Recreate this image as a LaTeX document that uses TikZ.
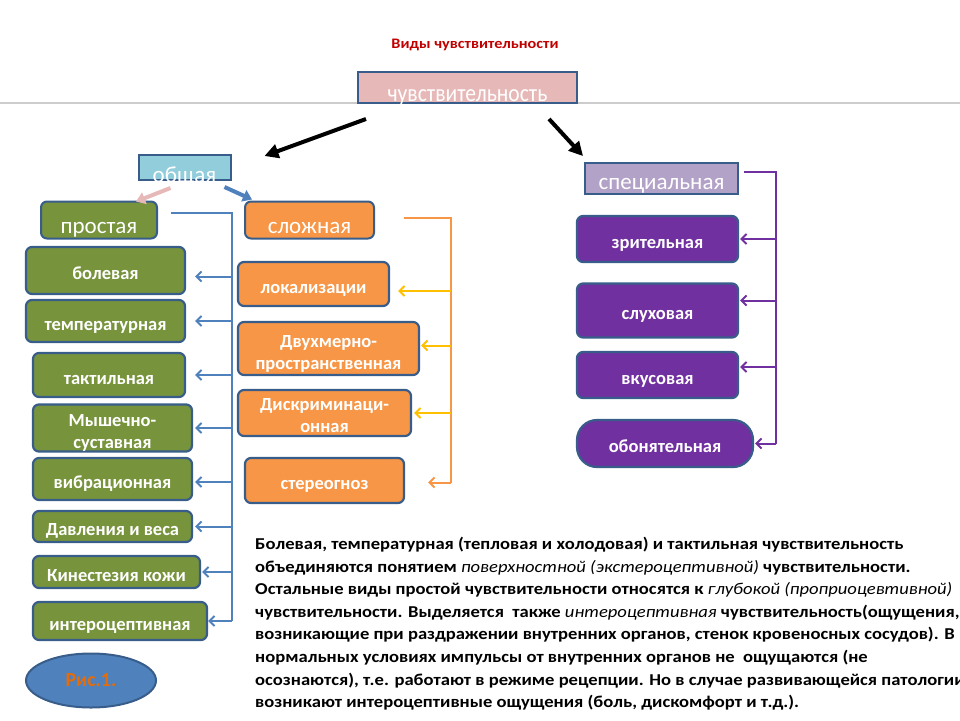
\documentclass[tikz,border=0pt]{standalone}
\usepackage{fontspec}
\setmainfont{Carlito}
\newfontfamily\widefont{Carlito}[FakeStretch=1.12]
\newfontfamily\narrowfont{Carlito}[FakeStretch=0.88]
\usetikzlibrary{arrows.meta,shapes.geometric}
\definecolor{frameblue}{HTML}{385D8A}
\definecolor{rootpink}{HTML}{E6B9B8}
\definecolor{commoncyan}{HTML}{92CDDC}
\definecolor{speclilac}{HTML}{B3A2C7}
\definecolor{simplegreen}{HTML}{77933C}
\definecolor{complexorange}{HTML}{F79646}
\definecolor{specpurple}{HTML}{7030A0}
\definecolor{linkblue}{HTML}{4F81BD}
\definecolor{linkyellow}{HTML}{FFC000}
\definecolor{titlered}{HTML}{C00000}
\definecolor{figorange}{HTML}{E46C0A}
\newcommand{\lite}[1]{{\mdseries\itshape #1}}
\newcommand{\sunk}[2]{\raisebox{-#1}[0pt][0pt]{#2}}

\begin{document}
\begin{tikzpicture}[
  x=1pt, y=-1pt,
  headbox/.style={draw=frameblue, line width=2pt, text=white, inner sep=0pt,
    font=\fontsize{23}{25}\selectfont},
  kindbox/.style={draw=frameblue, line width=2.2pt, rounded corners=6pt, text=white,
    inner sep=0pt, align=center, font=\bfseries\fontsize{18.5}{22}\selectfont,
    text height=18pt, text depth=0pt},
  twolines/.style={text height=, text depth=},
  greenbox/.style={kindbox, fill=simplegreen},
  orangebox/.style={kindbox, fill=complexorange},
  purplebox/.style={kindbox, fill=specpurple},
  bluelink/.style={draw=linkblue, line width=2pt},
  orangelink/.style={draw=complexorange, line width=2pt},
  purplelink/.style={draw=specpurple, line width=2pt},
  tip/.style={-{Straight Barb[length=5pt,width=10pt]}},
  bigarrow/.style={line width=4pt, -{Triangle[length=14pt,width=14pt]}}
]
\useasboundingbox (0,0) rectangle (960,720);

\draw[black!20, line width=1.5pt] (0,103) -- (960,103);

\node[font=\widefont\bfseries\fontsize{14.5}{16}\selectfont, text=titlered] (title) at (475,45) {Виды чувствительности};

\node[headbox, fill=rootpink, minimum width=219pt, minimum height=31pt,
  font=\narrowfont\fontsize{24.5}{26}\selectfont] (sens) at (467.5,87.5) {\sunk{14pt}{чувствительность}};
\node[headbox, fill=commoncyan, minimum width=92pt, minimum height=25pt] (common) at (184.5,167.5) {\sunk{15pt}{общая}};
\node[headbox, fill=speclilac, minimum width=153pt, minimum height=31pt] (special) at (661.5,178.5) {\sunk{11pt}{специальная}};

\draw[bigarrow] ([shift={(9,15)}]sens.south west) -- ([shift={(33,2)}]common.north east);
\draw[bigarrow] ([shift={(-29,15)}]sens.south east) -- ([shift={(-1,-6)}]special.north west);

\node[headbox, fill=simplegreen, rounded corners=6pt, minimum width=116pt, minimum height=37pt] (simple) at (99,220) {\sunk{13.5pt}{простая}};
\node[headbox, fill=complexorange, rounded corners=6pt, minimum width=129pt, minimum height=37pt] (complex) at (309.5,220) {\sunk{13.5pt}{сложная}};

\draw[draw=rootpink, line width=4pt, -{Triangle[length=9pt,width=12pt]}] ([shift={(-14,7)}]common.south) -- ([shift={(-22,1)}]simple.north east);
\draw[draw=linkblue, line width=4pt, -{Triangle[length=9pt,width=12pt]}] ([shift={(-7,6)}]common.south east) -- ([shift={(8,-1)}]complex.north west);

% простая
\node[greenbox, minimum width=159pt, minimum height=47pt] (pain) at (105.5,270.5) {болевая};
\node[greenbox, minimum width=159pt, minimum height=42pt] (temp) at (105.5,321) {температурная};
\node[greenbox, minimum width=152pt, minimum height=44pt] (tact) at (109,375) {тактильная};
\node[greenbox, twolines, minimum width=159pt, minimum height=46pt] (musc) at (112.5,428) {\rule{0pt}{1.2em}Мышечно-\\суставная};
\node[greenbox, minimum width=159pt, minimum height=42pt] (vib) at (112.5,479) {вибрационная};
\node[greenbox, minimum width=159pt, minimum height=31pt] (press) at (112.5,526.5) {Давления и веса};
\node[greenbox, minimum width=167pt, minimum height=32pt] (kin) at (116.5,572) {Кинестезия кожи};
\node[greenbox, minimum width=174pt, minimum height=38pt] (intero) at (120,621) {интероцептивная};

\coordinate (bluestart) at (171,213);
\coordinate (blueknee) at (232,213);
\draw[bluelink] (bluestart) -- (blueknee) -- (blueknee |- intero.east);
\draw[bluelink, tip, shorten >=9pt] ([yshift=-6pt]blueknee |- pain.east) -- ([yshift=-6pt]pain.east);
\draw[bluelink, tip, shorten >=9pt] (blueknee |- temp.east) -- (temp.east);
\draw[bluelink, tip, shorten >=9pt] (blueknee |- tact.east) -- (tact.east);
\draw[bluelink, tip, shorten >=2pt] (blueknee |- musc.east) -- (musc.east);
\draw[bluelink, tip, shorten >=2pt] ([yshift=-3pt]blueknee |- vib.east) -- ([yshift=-3pt]vib.east);
\draw[bluelink, tip, shorten >=2pt] (blueknee |- press.east) -- (press.east);
\draw[bluelink, tip, shorten >=1pt] (blueknee |- kin.east) -- (kin.east);
\draw[bluelink, tip] (blueknee |- intero.east) -- (intero.east);

% сложная
\node[orangebox, minimum width=151pt, minimum height=44pt] (loc) at (313.5,284) {локализации};
\node[orangebox, twolines, minimum width=181pt, minimum height=53pt] (twod) at (328.5,348.5) {\rule{0pt}{1.2em}Двухмерно-\\пространственная};
\node[orangebox, twolines, minimum width=173pt, minimum height=46pt] (discr) at (324.5,413) {\rule{0pt}{0.9em}Дискриминаци-\\онная};
\node[orangebox, minimum width=159pt, minimum height=45pt] (stereo) at (324.5,480.5) {стереогноз};

\coordinate (orangestart) at (404,218);
\coordinate (orangeknee) at (451,218);
\draw[orangelink] (orangestart) -- (orangeknee) -- ([yshift=-2pt]orangeknee |- stereo.east);
\draw[draw=linkyellow, line width=2pt, tip, shorten >=8pt] ([yshift=-7pt]orangeknee |- loc.east) -- ([yshift=-7pt]loc.east);
\draw[draw=linkyellow, line width=2pt, tip, shorten >=1pt] ([yshift=3pt]orangeknee |- twod.east) -- ([yshift=3pt]twod.east);
\draw[draw=linkyellow, line width=2pt, tip, shorten >=2pt] (orangeknee |- discr.east) -- (discr.east);
\draw[orangelink, tip, shorten >=23pt] ([yshift=-2pt]orangeknee |- stereo.east) -- ([yshift=-2pt]stereo.east);

% специальная
\node[purplebox, minimum width=161pt, minimum height=46pt] (vis) at (657.5,239) {зрительная};
\node[purplebox, minimum width=161pt, minimum height=54pt] (aud) at (657.5,310.5) {слуховая};
\node[purplebox, minimum width=161pt, minimum height=46pt] (taste) at (657.5,375) {вкусовая};
\node[purplebox, rounded corners=20pt, minimum width=176pt, minimum height=47pt] (smell) at (665,443.5) {обонятельная};

\coordinate (purplestart) at (744,172);
\coordinate (purpleknee) at (776,172);
\draw[purplelink] (purplestart) -- (purpleknee) -- (purpleknee |- smell.east);
\draw[purplelink, tip, shorten >=1pt] (purpleknee |- vis.east) -- (vis.east);
\draw[purplelink, tip, shorten >=1pt] ([yshift=10pt]purpleknee |- aud.east) -- ([yshift=10pt]aud.east);
\draw[purplelink, tip, shorten >=1pt] ([yshift=8pt]purpleknee |- taste.east) -- ([yshift=8pt]taste.east);
\draw[purplelink, tip, shorten >=1pt] (purpleknee |- smell.east) -- (smell.east);

\node[ellipse, draw=frameblue, line width=2pt, fill=linkblue, minimum width=130pt, minimum height=54pt,
  text=figorange, font=\bfseries\fontsize{20}{24}\selectfont] (fig) at (91,680.5) {Рис.1.};

\node[anchor=north west, inner sep=0pt, align=left,
  font=\widefont\bfseries\fontsize{16.6}{22.6}\selectfont] (note) at (255,537) {%
Болевая, температурная (тепловая и холодовая) и тактильная чувствительность\\
объединяются понятием \lite{поверхностной (экстероцептивной)} чувствительности.\\
Остальные виды простой чувствительности относятся к \lite{глубокой (проприоцевтивной)}\\
чувствительности. Выделяется\ \ также \lite{интероцептивная} чувствительность(ощущения,\\
возникающие при раздражении внутренних органов, стенок кровеносных сосудов). В\\
нормальных условиях импульсы от внутренних органов не\ \ ощущаются (не\\
осознаются), т.е. работают в режиме рецепции. Но в случае развивающейся патологии\\
возникают интероцептивные ощущения (боль, дискомфорт и т.д.).};
\end{tikzpicture}
\end{document}
